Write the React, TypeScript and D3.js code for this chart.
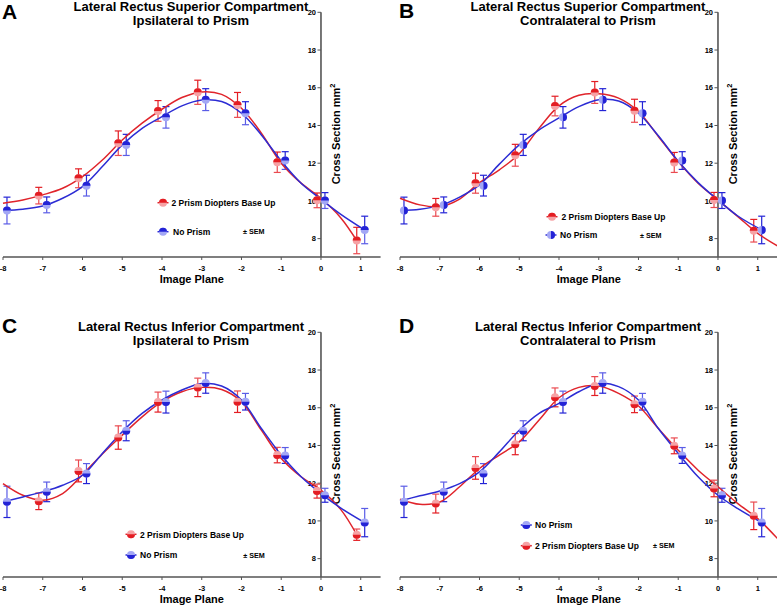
import React from "react";
import * as d3 from "d3";

// ---------- data ----------
const PLANES = [-8, -7, -6, -5, -4, -3, -2, -1, 0, 1];
const FIT_X = [-8, -7.5, -7, -6.5, -6, -5.5, -5, -4.5, -4, -3.5, -3, -2.5, -2, -1.5, -1, -0.5, 0, 0.5, 1, 1.5];
const Y_TICKS = [8, 10, 12, 14, 16, 18, 20];
const X_TICKS = [-8, -7, -6, -5, -4, -3, -2, -1, 0, 1];

const PRISM_LABEL = "2 Prism Diopters Base Up";
const NOPRISM_LABEL = "No Prism";

// No Prism (control) – superior compartment (panels A & B)
const noPrismSupMean = [9.49, 9.79, 10.81, 12.97, 14.43, 15.37, 14.65, 12.14, 10.02, 8.46];
const noPrismSupSem = [0.71, 0.42, 0.55, 0.56, 0.57, 0.58, 0.61, 0.47, 0.42, 0.73];
// No Prism (control) – inferior compartment (panels C & D)
const noPrismInfMean = [11.01, 11.54, 12.51, 14.78, 16.3, 17.31, 16.32, 13.47, 11.36, 9.91];
const noPrismInfSem = [0.83, 0.52, 0.53, 0.53, 0.58, 0.54, 0.44, 0.42, 0.37, 0.75];

// 2 prism diopters
const prismAMean = [null, 10.28, 11.2, 13.06, 14.77, 15.76, 15.09, 12.05, 10.03, 7.9];
const prismASem = [null, 0.44, 0.5, 0.65, 0.55, 0.64, 0.66, 0.54, 0.39, 0.7];
const prismBMean = [null, 9.66, 10.94, 12.42, 15.03, 15.75, 14.78, 12.04, 10.05, 8.42];
const prismBSem = [null, 0.47, 0.53, 0.58, 0.52, 0.58, 0.61, 0.53, 0.4, 0.6];
const prismCMean = [null, 11.04, 12.65, 14.42, 16.3, 17.08, 16.32, 13.49, 11.58, 9.27];
const prismCSem = [null, 0.44, 0.58, 0.62, 0.53, 0.49, 0.57, 0.41, 0.37, 0.3];
const prismDMean = [null, 10.92, 12.81, 14.07, 16.55, 17.15, 16.18, 13.98, 11.72, 10.27];
const prismDSem = [null, 0.5, 0.6, 0.56, 0.5, 0.5, 0.44, 0.42, 0.44, 0.73];

// fitted curves read at FIT_X (null = not drawn)
const fitARed = [9.88, 10.05, 10.32, 10.67, 11.29, 12.17, 13.23, 14.12, 14.86, 15.48, 15.78, 15.65, 14.91, 13.59, 12.0, 10.94, 10.14, 9.1, null, null];
const fitABlue = [9.49, 9.56, 9.73, 10.14, 10.76, 11.82, 12.97, 13.85, 14.47, 15.04, 15.35, 15.27, 14.65, 13.5, 12.12, 10.94, 10.09, 9.29, null, null];
const fitBRed = [10.14, 9.79, 9.7, 10.1, 10.97, 11.65, 12.5, 13.86, 15.04, 15.6, 15.68, 15.45, 14.74, 13.42, 12.09, 10.94, 10.05, 9.17, 8.28, 7.61];
const fitBBlue = [9.49, 9.56, 9.75, 10.2, 10.85, 11.95, 12.97, 13.77, 14.4, 15.0, 15.36, 15.3, 14.65, 13.45, 12.1, 10.97, 10.05, 9.2, null, null];
const fitCRed = [11.98, 11.36, 11.1, 11.45, 12.45, 13.55, 14.55, 15.52, 16.32, 16.85, 17.08, 16.97, 16.32, 14.81, 13.31, 12.34, 11.63, 10.6, null, null];
const fitCBlue = [11.01, 11.27, 11.54, 11.89, 12.42, 13.58, 14.73, 15.7, 16.41, 16.94, 17.29, 17.15, 16.41, 14.9, 13.49, 12.34, 11.45, 10.68, null, null];
const fitDRed = [11.15, 10.88, 11.0, 11.81, 12.78, 13.49, 14.19, 15.35, 16.53, 17.08, 17.15, 16.76, 16.09, 14.9, 13.75, 12.69, 11.81, 10.92, 10.12, 9.06];
const fitDBlue = [11.06, 11.33, 11.59, 11.98, 12.6, 13.66, 14.81, 15.7, 16.23, 16.85, 17.29, 17.12, 16.41, 14.9, 13.58, 12.34, 11.36, 10.65, null, null];

// ---------- styles ----------
const FONT = "'Liberation Sans', Arial, Helvetica, sans-serif";
const RED = { dark: "#e31d23", light: "#f6a2a5", mid: "#ea4a50", line: "#e0242b" };
const BLUE = { dark: "#2323d6", light: "#a3a7f5", mid: "#5a5ce6", line: "#2c2cd4" };
const AXIS = "#555555";

type Side = "top" | "bottom" | "right";
interface Series {
  label: string;
  mean: (number | null)[];
  sem: (number | null)[];
  fit: (number | null)[];
  col: typeof RED;
  side: Side;
  jitter: number;
}
interface LegendItem { s: number; x: number; y: number; tx: number }
interface PanelCfg {
  ox: number; oy: number; letter: string; lx: number; ly: number;
  title1: string; title2: string;
  series: Series[];
  legend: LegendItem[];
  sem: { x: number; y: number };
}

const red = (mean: any, sem: any, fit: any, side: Side): Series => ({ label: PRISM_LABEL, mean, sem, fit, col: RED, side, jitter: -0.1 });
const blue = (mean: any, sem: any, fit: any, side: Side): Series => ({ label: NOPRISM_LABEL, mean, sem, fit, col: BLUE, side, jitter: 0.1 });

const PANELS: PanelCfg[] = [
  {
    ox: 0, oy: 0, letter: "A", lx: 2, ly: 18.5,
    title1: "Lateral Rectus Superior Compartment", title2: "Ipsilateral to Prism",
    series: [red(prismAMean, prismASem, fitARed, "top"), blue(noPrismSupMean, noPrismSupSem, fitABlue, "top")],
    legend: [{ s: 0, x: 163, y: 202.7, tx: 171.5 }, { s: 1, x: 163, y: 231.7, tx: 173 }],
    sem: { x: 243, y: 231.7 },
  },
  {
    ox: 397, oy: 0, letter: "B", lx: 399, ly: 18,
    title1: "Lateral Rectus Superior Compartment", title2: "Contralateral to Prism",
    series: [red(prismBMean, prismBSem, fitBRed, "top"), blue(noPrismSupMean, noPrismSupSem, fitBBlue, "right")],
    legend: [{ s: 0, x: 155, y: 216.7, tx: 164.5 }, { s: 1, x: 154, y: 235, tx: 163 }],
    sem: { x: 243, y: 235 },
  },
  {
    ox: 0, oy: 320, letter: "C", lx: 2, ly: 333,
    title1: "Lateral Rectus Inferior Compartment", title2: "Ipsilateral to Prism",
    series: [red(prismCMean, prismCSem, fitCRed, "bottom"), blue(noPrismInfMean, noPrismInfSem, fitCBlue, "bottom")],
    legend: [{ s: 0, x: 131, y: 214.3, tx: 140 }, { s: 1, x: 131, y: 235, tx: 140 }],
    sem: { x: 243.3, y: 235 },
  },
  {
    ox: 397, oy: 320, letter: "D", lx: 399, ly: 333,
    title1: "Lateral Rectus Inferior Compartment", title2: "Contralateral to Prism",
    series: [red(prismDMean, prismDSem, fitDRed, "bottom"), blue(noPrismInfMean, noPrismInfSem, fitDBlue, "bottom")],
    legend: [{ s: 1, x: 129.3, y: 205, tx: 138 }, { s: 0, x: 129.3, y: 225.7, tx: 138 }],
    sem: { x: 256, y: 225.7 },
  },
];

const R = 4;
function halfPath(side: Side) {
  if (side === "top") return `M${-R},0A${R},${R} 0 0 1 ${R},0Z`;
  if (side === "bottom") return `M${-R},0A${R},${R} 0 0 0 ${R},0Z`;
  return `M0,${-R}A${R},${R} 0 0 1 0,${R}Z`;
}

function Marker({ cx, cy, s }: { cx: number; cy: number; s: Series }) {
  return (
    <g transform={`translate(${cx},${cy})`}>
      <circle r={R} fill={s.col.light} />
      <path d={halfPath(s.side)} fill={s.col.dark} />
    </g>
  );
}

function Panel({ cfg }: { cfg: PanelCfg }) {
  const x = d3.scaleLinear().domain([-8, 1.5]).range([3, 380.6]);
  const y = d3.scaleLinear().domain([7, 20]).range([257.5, 12.3]);
  const axisY = 257;
  const x0 = x(0);
  const line = d3
    .line<[number, number]>()
    .x((d) => x(d[0]))
    .y((d) => y(d[1]))
    .curve(d3.curveCatmullRom.alpha(0.5));

  const curvePts = (s: Series): [number, number][] => {
    const pts: [number, number][] = [];
    FIT_X.forEach((fx, i) => {
      const v = s.fit[i];
      if (v != null) pts.push([fx, v]);
    });
    // extend to last data point if the fit stops before it
    let li = s.mean.length - 1;
    while (li >= 0 && s.mean[li] == null) li--;
    const lx = PLANES[li] + s.jitter;
    if (pts.length && pts[pts.length - 1][0] < lx) pts.push([lx, s.mean[li] as number]);
    return pts;
  };

  return (
    <g transform={`translate(${cfg.ox},${cfg.oy})`} fontFamily={FONT}>
      {/* titles */}
      <text x={191} y={10.8} textAnchor="middle" fontSize={13} fontWeight="bold">{cfg.title1}</text>
      <text x={191} y={25} textAnchor="middle" fontSize={13} fontWeight="bold">{cfg.title2}</text>

      {/* x axis */}
      <line x1={x(-8)} x2={x(1.5)} y1={axisY} y2={axisY} stroke={AXIS} strokeWidth={1.6} />
      {X_TICKS.map((t) => (
        <g key={t}>
          <line x1={x(t)} x2={x(t)} y1={axisY} y2={axisY + 3} stroke={AXIS} strokeWidth={1} />
          <text x={x(t)} y={axisY + 13.5} textAnchor="middle" fontSize={7.5} fontWeight="bold">{t}</text>
        </g>
      ))}
      <text x={(x(-8) + x(1.5)) / 2} y={axisY + 26} textAnchor="middle" fontSize={11} fontWeight="bold">Image Plane</text>

      {/* y axis */}
      <line x1={x0} x2={x0} y1={y(20)} y2={axisY} stroke={AXIS} strokeWidth={1.6} />
      {Y_TICKS.map((t) => (
        <g key={t}>
          <line x1={x0 - 3.5} x2={x0} y1={y(t)} y2={y(t)} stroke={AXIS} strokeWidth={1} />
          <text x={x0 - 5} y={y(t) + 2.6} textAnchor="end" fontSize={7.5} fontWeight="bold">{t}</text>
        </g>
      ))}
      <text
        transform={`translate(${x0 + 19},${y(13.55)}) rotate(-90)`}
        textAnchor="middle"
        fontSize={11}
        fontWeight="bold"
      >
        Cross Section mm<tspan fontSize={7.5} dy={-4.5}>2</tspan>
      </text>

      {/* error bars */}
      {cfg.series.map((s, si) =>
        PLANES.map((p, i) => {
          const m = s.mean[i];
          const e = s.sem[i];
          if (m == null || e == null) return null;
          const cx = x(p + s.jitter);
          const upCol = s.side === "bottom" ? s.col.mid : s.col.dark;
          const loCol = s.side === "top" ? s.col.mid : s.col.dark;
          return (
            <g key={`e${si}-${i}`} strokeWidth={1.2} fill="none">
              <line x1={cx} x2={cx} y1={y(m)} y2={y(m + e)} stroke={upCol} />
              <line x1={cx - 3.5} x2={cx + 3.5} y1={y(m + e)} y2={y(m + e)} stroke={upCol} />
              <line x1={cx} x2={cx} y1={y(m)} y2={y(m - e)} stroke={loCol} />
              <line x1={cx - 3.5} x2={cx + 3.5} y1={y(m - e)} y2={y(m - e)} stroke={loCol} />
            </g>
          );
        })
      )}

      {/* fitted curves */}
      {cfg.series.map((s, si) => (
        <path key={`c${si}`} d={line(curvePts(s)) || ""} fill="none" stroke={s.col.line} strokeWidth={1.5} />
      ))}

      {/* markers */}
      {cfg.series.map((s, si) =>
        PLANES.map((p, i) => {
          const m = s.mean[i];
          if (m == null) return null;
          return <Marker key={`m${si}-${i}`} cx={x(p + s.jitter)} cy={y(m)} s={s} />;
        })
      )}

      {/* legend */}
      {cfg.legend.map((it, k) => {
        const s = cfg.series[it.s];
        return (
          <g key={`l${k}`}>
            <line x1={it.x - 5.5} x2={it.x + 5.5} y1={it.y} y2={it.y} stroke={s.col.line} strokeWidth={1.5} />
            <Marker cx={it.x} cy={it.y} s={s} />
            <text x={it.tx} y={it.y + 3.2} fontSize={8.5} fontWeight="bold">{s.label}</text>
          </g>
        );
      })}
      <text x={cfg.sem.x} y={cfg.sem.y + 2.6} fontSize={7.2} fontWeight="bold">± SEM</text>
    </g>
  );
}

export default function App() {
  return (
    <svg
      width={777}
      height={607}
      viewBox="0 0 777 607"
      style={{ position: "absolute", left: 0, top: 0, background: "#ffffff" }}
    >
      <rect width={777} height={607} fill="#ffffff" />
      {PANELS.map((p) => (
        <Panel key={p.letter} cfg={p} />
      ))}
      {PANELS.map((p) => (
        <text key={`L${p.letter}`} x={p.lx} y={p.ly} fontSize={21} fontWeight="bold" fontFamily={FONT}>
          {p.letter}
        </text>
      ))}
    </svg>
  );
}
